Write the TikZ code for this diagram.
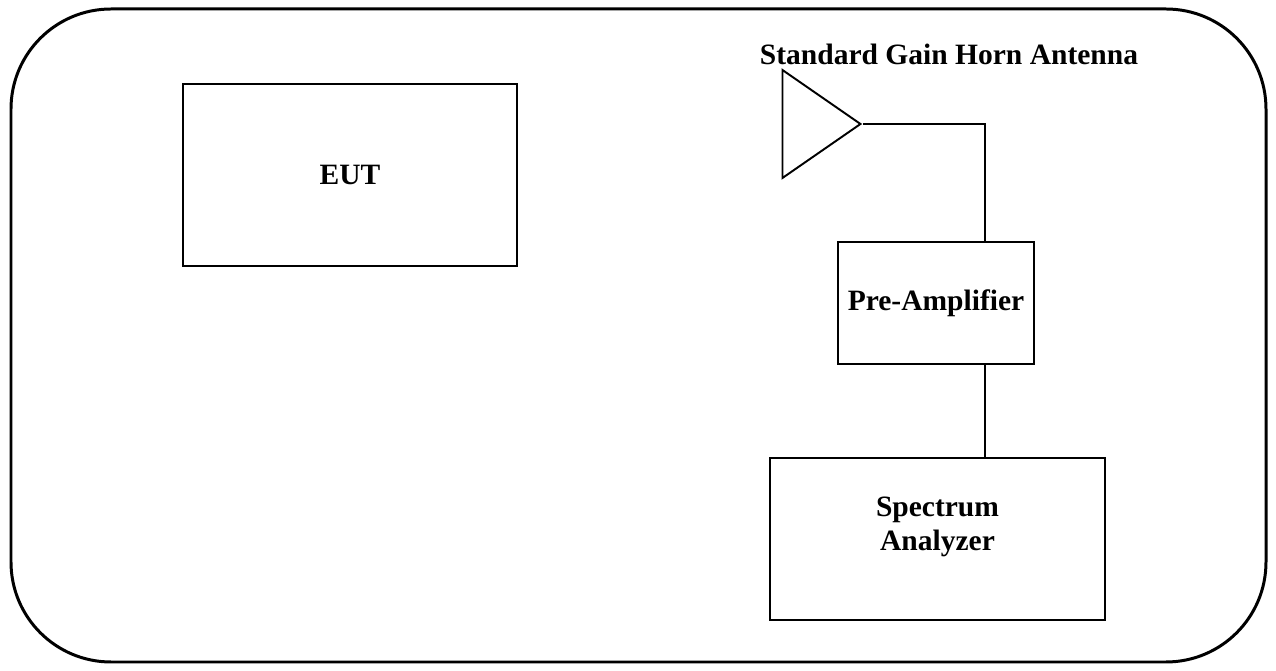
\documentclass[tikz,border=0pt]{standalone}
\usepackage{fontspec}
\setmainfont{Liberation Serif}
\usetikzlibrary{shapes.geometric,positioning}

\begin{document}
\begin{tikzpicture}[x=0.02cm, y=-0.02cm,
    every node/.style={font=\fontsize{16.8}{19.5}\selectfont\bfseries},
    box/.style={rectangle, draw, line width=1.1pt, inner sep=0pt},
    wire/.style={line width=1.1pt}]
    \useasboundingbox (0,0) rectangle (1276,671);
    % test room
    \draw [line width=1.7pt, rounded corners=2cm] (11,9) rectangle (1266,662);
    \node (eut) [box, minimum width=6.68cm, minimum height=3.64cm] at (350,175) {EUT};
    \node (horn) [isosceles triangle, isosceles triangle stretches, draw, line width=1.1pt, inner sep=0pt, minimum width=2.16cm, minimum height=1.56cm, anchor=apex] at (863,124) {};
    \node (hornlabel) at (949,54) {Standard Gain Horn Antenna};
    \node (preamp) [box, minimum width=3.92cm, minimum height=2.44cm] at (936,303) {Pre-Amplifier};
    \node (analyzer) [box, minimum width=6.7cm, minimum height=3.24cm, label={[align=center, yshift=0.24cm]center:Spectrum\\Analyzer}] at (937.5,539) {};
    \coordinate (tap) at (985,0);
    \draw [wire] (horn.apex) -| (preamp.north -| tap);
    \draw [wire] (preamp.south -| tap) -- (analyzer.north -| tap);
\end{tikzpicture}
\end{document}
